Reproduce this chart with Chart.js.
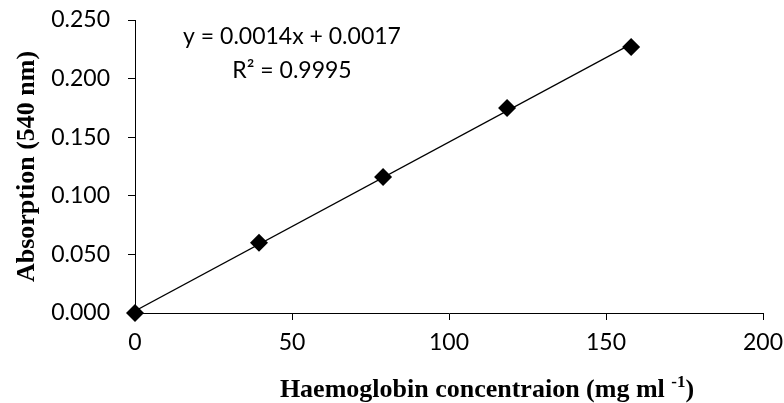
<!DOCTYPE html>
<html>
<head>
<meta charset="utf-8">
<script src="https://cdn.jsdelivr.net/npm/chart.js@4/dist/chart.umd.min.js"></script>
<style>
  body { margin: 0; background: #fff; }
  #wrap { width: 784px; height: 403px; position: relative; }
</style>
</head>
<body>
<div id="wrap"><canvas id="myChart"></canvas></div>
<script>
// Data
var concentration = [0, 39.5, 79, 118.5, 158];
var absorption = [0.000, 0.060, 0.116, 0.175, 0.227];
var xTicks = [0, 50, 100, 150, 200];
var yTicks = [0, 0.05, 0.1, 0.15, 0.2, 0.25];
var equationText = ["y = 0.0014x + 0.0017", "R\u00b2 = 0.9995"];

// least squares trendline through the points (like Excel does)
function linearFit(xs, ys) {
  var n = xs.length, mx = 0, my = 0;
  for (var i = 0; i < n; i++) { mx += xs[i]; my += ys[i]; }
  mx /= n; my /= n;
  var sxy = 0, sxx = 0;
  for (var j = 0; j < n; j++) {
    sxy += (xs[j] - mx) * (ys[j] - my);
    sxx += (xs[j] - mx) * (xs[j] - mx);
  }
  var slope = sxy / sxx;
  return { slope: slope, intercept: my - slope * mx };
}

var fit = linearFit(concentration, absorption);
var xFirst = concentration[0];
var xLast = concentration[concentration.length - 1];
var trendData = [
  { x: xFirst, y: fit.intercept + fit.slope * xFirst },
  { x: xLast, y: fit.intercept + fit.slope * xLast }
];

var pointData = [];
for (var i = 0; i < concentration.length; i++) {
  pointData.push({ x: concentration[i], y: absorption[i] });
}

// draws the equation and the x axis title (it has a superscript)
var textPlugin = {
  id: "extraText",
  afterDraw: function (chart) {
    var ctx = chart.ctx;
    var xs = chart.scales.x;
    var ys = chart.scales.y;
    ctx.save();
    ctx.fillStyle = "#000";
    ctx.textAlign = "center";
    ctx.textBaseline = "middle";
    ctx.font = "23px Lato";
    var cx = xs.getPixelForValue(50);
    ctx.fillText(equationText[0], cx, ys.getPixelForValue(0.2355));
    ctx.fillText(equationText[1], cx, ys.getPixelForValue(0.207));

    // x axis title
    var main = "Haemoglobin concentraion (mg ml ";
    var sup = "-1";
    var close = ")";
    var bigFont = "bold 26px 'Liberation Serif'";
    var smallFont = "bold 17px 'Liberation Serif'";
    ctx.textAlign = "left";
    ctx.textBaseline = "alphabetic";
    ctx.font = bigFont;
    var w1 = ctx.measureText(main).width;
    var w3 = ctx.measureText(close).width;
    ctx.font = smallFont;
    var w2 = ctx.measureText(sup).width;
    var total = w1 + w2 + w3;
    var startX = 487 - total / 2;
    var baseY = 397;
    ctx.font = bigFont;
    ctx.fillText(main, startX, baseY);
    ctx.font = smallFont;
    ctx.fillText(sup, startX + w1, baseY - 10);
    ctx.font = bigFont;
    ctx.fillText(close, startX + w1 + w2, baseY);
    ctx.restore();
  }
};

var ctx = document.getElementById("myChart").getContext("2d");
var myChart = new Chart(ctx, {
  type: "scatter",
  data: {
    datasets: [
      {
        label: "Absorption",
        data: pointData,
        pointStyle: "rectRot",
        pointRadius: 9,
        pointBackgroundColor: "#000",
        pointBorderColor: "#000",
        pointBorderWidth: 0,
        showLine: false,
        clip: false
      },
      {
        label: "Linear",
        data: trendData,
        showLine: true,
        borderColor: "#000",
        borderWidth: 1.2,
        pointRadius: 0
      }
    ]
  },
  options: {
    responsive: true,
    maintainAspectRatio: false,
    animation: false,
    layout: { padding: { top: 20, right: 21, bottom: 0, left: 0 } },
    plugins: {
      legend: { display: false },
      tooltip: { enabled: false }
    },
    scales: {
      x: {
        type: "linear",
        min: 0,
        max: 200,
        afterBuildTicks: function (scale) {
          scale.ticks = xTicks.map(function (v) { return { value: v }; });
        },
        afterFit: function (scale) {
          scale.height = 90;
          scale.paddingLeft = 0;
          scale.paddingRight = 0;
        },
        ticks: {
          color: "#000",
          font: { family: "Lato", size: 23 },
          padding: 9,
          maxRotation: 0
        },
        grid: {
          drawOnChartArea: false,
          drawTicks: true,
          tickLength: 7,
          color: "#000",
          lineWidth: 1
        },
        border: { display: true, color: "#000", width: 1 }
      },
      y: {
        type: "linear",
        min: 0,
        max: 0.25,
        afterBuildTicks: function (scale) {
          scale.ticks = yTicks.map(function (v) { return { value: v }; });
        },
        afterFit: function (scale) {
          scale.width = 135;
          scale.paddingTop = 0;
          scale.paddingBottom = 0;
        },
        ticks: {
          color: "#000",
          font: { family: "Lato", size: 23 },
          padding: 18,
          callback: function (v) { return Number(v).toFixed(3); }
        },
        grid: {
          drawOnChartArea: false,
          drawTicks: true,
          tickLength: 7,
          color: "#000",
          lineWidth: 1
        },
        border: { display: true, color: "#000", width: 1 },
        title: {
          display: true,
          text: "Absorption (540 nm)",
          color: "#000",
          font: { family: "'Liberation Serif'", size: 26, weight: "bold" },
          padding: { top: 12, bottom: 0 }
        }
      }
    }
  },
  plugins: [textPlugin]
});
</script>
</body>
</html>
